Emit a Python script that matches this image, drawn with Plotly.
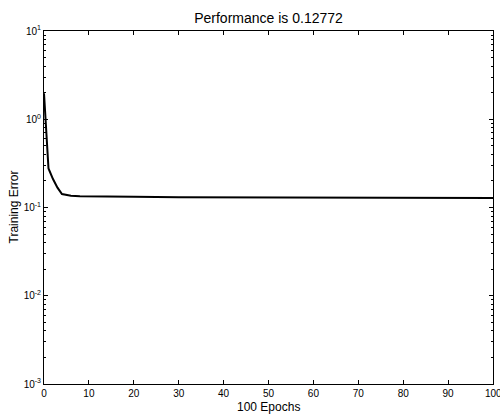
import plotly.graph_objects as go

# training record (epoch, error)
epochs = [0, 1, 2, 3, 4, 5, 6, 8, 10, 20, 30, 40, 50, 60, 70, 80, 90, 100]
train_err = [1.97, 0.277, 0.21, 0.168, 0.142, 0.138, 0.136, 0.134, 0.1335,
             0.1325, 0.131, 0.1305, 0.129, 0.1285, 0.128, 0.128, 0.1278, 0.12772]

y_tickvals = [1e-3, 1e-2, 1e-1, 1e0, 1e1]
y_ticktext = ['10<sup>-3</sup>', '10<sup>-2</sup>', '10<sup>-1</sup>', '10<sup>0</sup>', '10<sup>1</sup>']
x_tickvals = [0, 10, 20, 30, 40, 50, 60, 70, 80, 90, 100]

# minor log ticks 2..9 in each decade
y_minor = [m * d for d in y_tickvals[:-1] for m in range(2, 10)]

fig = go.Figure()
fig.add_trace(go.Scatter(x=epochs, y=train_err, mode='lines',
                         line={'color': 'black', 'width': 2}, showlegend=False))

axis_common = dict(showline=True, linecolor='black', linewidth=1, mirror='ticks',
                   ticks='inside', tickcolor='black', showgrid=False, zeroline=False,
                   automargin=False, tickfont={'size': 10, 'color': 'black'})

fig.update_xaxes(range=[0, 100], tickvals=x_tickvals, ticklen=4, **axis_common)
fig.update_yaxes(type='log', range=[-3, 1], tickvals=y_tickvals, ticktext=y_ticktext, ticklen=4,
                 minor={'tickvals': y_minor, 'ticks': 'inside', 'ticklen': 2,
                        'tickcolor': 'black', 'showgrid': False},
                 **axis_common)

# last x tick label gets dropped by plotly at the edge, so add it by hand
fig.add_annotation(x=100, y=0, xref='x', yref='paper', text='100', showarrow=False,
                   yanchor='top', yshift=-2, font={'size': 10, 'color': 'black'})
# axis titles
fig.add_annotation(x=0.5, y=0, xref='paper', yref='paper', text='100 Epochs', showarrow=False,
                   yanchor='top', yshift=-14, font={'size': 12, 'color': 'black'})
fig.add_annotation(x=0, y=0.5, xref='paper', yref='paper', text='Training Error', showarrow=False,
                   textangle=-90, xanchor='right', xshift=-22, font={'size': 12, 'color': 'black'})

fig.update_layout(
    width=500, height=416,
    margin={'l': 44, 'r': 7, 't': 31, 'b': 32},
    paper_bgcolor='white', plot_bgcolor='white',
    font={'family': 'Liberation Sans, Arial, sans-serif', 'color': 'black'},
    title={'text': 'Performance is 0.12772', 'xref': 'paper', 'x': 0.5, 'xanchor': 'center',
           'y': 0.957, 'yanchor': 'middle', 'font': {'size': 14, 'color': 'black'}},
)
fig.write_html("out.html", config={'displayModeBar': False},
               post_script="document.body.style.margin='0';")
